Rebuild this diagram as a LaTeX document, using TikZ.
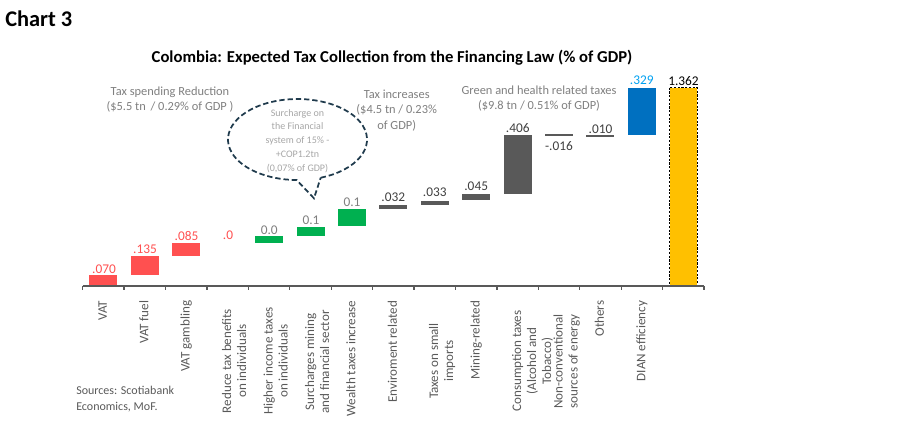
\documentclass[tikz,border=0pt]{standalone}
\usepackage{fontspec}
\setmainfont{Carlito}
\definecolor{barred}{HTML}{FF5050}
\definecolor{bargreen}{HTML}{00B050}
\definecolor{bargray}{HTML}{595959}
\definecolor{barblue}{HTML}{0070C0}
\definecolor{baryellow}{HTML}{FFC000}
\definecolor{numblue}{HTML}{00A0F0}
\definecolor{numgray}{HTML}{404040}
\definecolor{lightgray}{HTML}{7F7F7F}
\definecolor{bubblegray}{HTML}{A6A6A6}
\definecolor{bubbleline}{HTML}{1F3A4C}
\definecolor{axisgray}{HTML}{595959}
\begin{document}
\begin{tikzpicture}[x=0.75pt,y=-0.75pt,
    valnum/.style={inner sep=0pt,font=\fontsize{10}{11}\selectfont},
    catlab/.style={rotate=90,align=center,inner sep=0pt,text=axisgray,font=\fontsize{9.8}{11.25}\selectfont},
    grouplab/.style={align=center,inner sep=0pt,text=lightgray,font=\fontsize{9.3}{11.5}\selectfont}]
                \useasboundingbox (0,0) rectangle (900,444);
                
                % Heading and title
                \node [anchor=base west,inner sep=0pt,font=\fontsize{16.8}{19}\selectfont\bfseries] (chart) at (5,26) {Chart 3};
                \node [anchor=base,inner sep=0pt,font=\fontsize{12.5}{14}\selectfont\bfseries] (title) at (392,62) {Colombia: Expected Tax Collection from the Financing Law (\% of GDP)};
                
                % Drawing bars VAT, VAT fuel, VAT gambling
                \fill [barred] (89.4,275.0) rectangle (117.4,286.0);%
                \fill [barred] (130.8,256.0) rectangle (158.8,275.0);%
                \fill [barred] (172.2,243.0) rectangle (200.2,255.5);%
                
                % Drawing bars income, surcharges, wealth
                \fill [bargreen] (255.1,236.0) rectangle (283.1,243.0);%
                \fill [bargreen] (296.5,227.0) rectangle (324.5,236.0);%
                \fill [bargreen] (337.9,209.3) rectangle (365.9,226.0);%
                
                % Drawing bars enviroment .. others
                \fill [bargray] (379.3,205.0) rectangle (407.3,209.0);%
                \fill [bargray] (420.7,200.5) rectangle (448.7,205.0);%
                \fill [bargray] (462.1,193.5) rectangle (490.1,200.3);%
                \fill [bargray] (503.6,134.5) rectangle (531.6,193.5);%
                \fill [bargray] (545.0,134.0) rectangle (573.0,136.0);%
                \fill [bargray] (586.4,134.5) rectangle (614.4,136.5);%
                
                % Drawing bar DIAN and total
                \fill [barblue] (627.8,87.5) rectangle (655.8,135.3);%
                \draw [fill=baryellow,line width=0.8pt,dash pattern=on 1.6pt off 1.2pt] (669.6,87.7) rectangle (697.2,285.5);%
                
                % Drawing axis with ticks
                \draw [axisgray,line width=1pt] (82.7,286) -- (704.0,286);%
                \draw [axisgray,line width=1pt] (82.7,286) -- (82.7,290) (124.1,286) -- (124.1,290)
                    (165.5,286) -- (165.5,290) (207.0,286) -- (207.0,290) (248.4,286) -- (248.4,290)
                    (289.8,286) -- (289.8,290) (331.2,286) -- (331.2,290) (372.6,286) -- (372.6,290)
                    (414.1,286) -- (414.1,290) (455.5,286) -- (455.5,290) (496.9,286) -- (496.9,290)
                    (538.3,286) -- (538.3,290) (579.7,286) -- (579.7,290) (621.2,286) -- (621.2,290)
                    (662.6,286) -- (662.6,290) (704.0,286) -- (704.0,290);%
                
                % Marking values of bars
                \node [valnum,text=barred] (val0) at (104.0,269.0) {.070};
                \node [valnum,text=barred] (val1) at (145.0,249.0) {.135};
                \node [valnum,text=barred] (val2) at (186.5,235.7) {.085};
                \node [valnum,text=barred] (val3) at (228.0,235.7) {.0};
                \node [valnum,text=lightgray] (val4) at (269.3,230.0) {0.0};
                \node [valnum,text=lightgray] (val5) at (311.0,220.0) {0.1};
                \node [valnum,text=lightgray] (val6) at (352.0,202.7) {0.1};
                \node [valnum,text=numgray] (val7) at (393.3,197.3) {.032};
                \node [valnum,text=numgray] (val8) at (434.8,192.7) {.033};
                \node [valnum,text=numgray] (val9) at (476.2,186.7) {.045};
                \node [valnum,text=numgray] (val10) at (517.8,128.3) {.406};
                \node [valnum,text=numgray] (val11) at (559.0,146.0) {-.016};
                \node [valnum,text=numgray] (val12) at (600.5,129.0) {.010};
                \node [valnum,text=numblue] (val13) at (641.8,80.7) {.329};
                \node [valnum,text=black] (val14) at (683.5,80.7) {1.362};
                
                % Group labels
                \node [grouplab] (spending) at (170,99.7) {Tax spending Reduction\\(\$5.5 tn\, / 0.29\% of GDP )};
                \node [grouplab] (increases) at (396.7,110.3) {Tax increases\\(\$4.5 tn / 0.23\%\\of GDP)};
                \node [grouplab] (green) at (539,98.4) {Green and health related taxes\\(\$9.8 tn / 0.51\% of GDP)};
                
                % Drawing callout on surcharge
                \draw [bubbleline,line width=1.3pt,dash pattern=on 4pt off 2.2pt]
                    (320.7,177.7) arc [start angle=70.5,end angle=-269.3,x radius=69.5,y radius=40.5]
                    -- (314,198.3) -- cycle;%
                \node [align=center,inner sep=0pt,text=bubblegray,font=\fontsize{7.5}{10.35}\selectfont] (callout) at (297.5,141) {Surcharge on\\the Financial\\system of 15\% -\\+COP1.2tn\\(0,07\% of GDP)};
                
                % Category labels below axis (base is the last line)
                \node [catlab,anchor=base east] (cat0) at (106.9,300.5) {VAT};
                \node [catlab,anchor=base east] (cat1) at (148.3,300.5) {VAT fuel};
                \node [catlab,anchor=base east] (cat2) at (189.7,300.5) {VAT gambling};
                \node [catlab,anchor=base] (cat3) at (246.2,361) {Reduce tax benefits\\on individuals};
                \node [catlab,anchor=base] (cat4) at (287.6,361) {Higher income taxes\\on individuals};
                \node [catlab,anchor=base] (cat5) at (329.0,362) {Surcharges mining\\and financial sector};
                \node [catlab,anchor=base east] (cat6) at (355.4,300.5) {Wealth taxes increase};
                \node [catlab,anchor=base east] (cat7) at (396.8,300.5) {Enviroment related};
                \node [catlab,anchor=base] (cat8) at (453.2,361) {Taxes on small\\imports};
                \node [catlab,anchor=base east] (cat9) at (479.6,300.5) {Mining-related};
                \node [catlab,anchor=base] (cat10) at (551.1,361) {Consumption taxes\\(Alcohol and\\Tobacco)};
                \node [catlab,anchor=base] (cat11) at (577.5,361.5) {Non-conventional\\sources of energy};
                \node [catlab,anchor=base east] (cat12) at (603.9,300.5) {Others};
                \node [catlab,anchor=base east] (cat13) at (645.3,300.5) {DIAN efficiency};
                
                % Sources
                \node [anchor=base west,align=left,inner sep=0pt,text=axisgray,font=\fontsize{9}{11.8}\selectfont] (sources) at (76,410) {Sources: Scotiabank\\Economics, MoF.};
            \end{tikzpicture}
\end{document}
